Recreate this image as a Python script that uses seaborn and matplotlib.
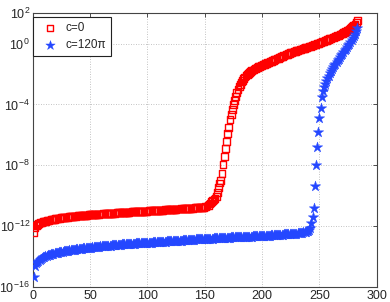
import numpy as np
import pandas as pd
import seaborn as sns
import matplotlib.pyplot as plt

# log10 of the sorted values, index 1..283
red_log = [
    -12.40, -12.13, -11.98, -11.90, -11.85, -11.80, -11.77, -11.74, -11.72, -11.70,
    -11.68, -11.66, -11.64, -11.62, -11.60, -11.58, -11.57, -11.55, -11.54, -11.52,
    -11.51, -11.50, -11.49, -11.47, -11.46, -11.45, -11.44, -11.43, -11.42, -11.41,
    -11.40, -11.39, -11.38, -11.38, -11.37, -11.36, -11.35, -11.34, -11.33, -11.32,
    -11.32, -11.31, -11.30, -11.30, -11.29, -11.28, -11.28, -11.27, -11.26, -11.26,
    -11.25, -11.25, -11.24, -11.23, -11.23, -11.22, -11.22, -11.21, -11.21, -11.20,
    -11.20, -11.19, -11.19, -11.18, -11.18, -11.17, -11.17, -11.16, -11.16, -11.15,
    -11.15, -11.14, -11.14, -11.13, -11.12, -11.12, -11.11, -11.11, -11.10, -11.10,
    -11.09, -11.09, -11.08, -11.08, -11.07, -11.07, -11.06, -11.06, -11.05, -11.05,
    -11.05, -11.04, -11.04, -11.03, -11.03, -11.03, -11.02, -11.02, -11.02, -11.01,
    -11.01, -11.00, -11.00, -10.99, -10.99, -10.98, -10.98, -10.97, -10.97, -10.96,
    -10.96, -10.95, -10.95, -10.94, -10.94, -10.93, -10.93, -10.92, -10.92, -10.91,
    -10.91, -10.90, -10.90, -10.89, -10.89, -10.88, -10.88, -10.87, -10.87, -10.86,
    -10.86, -10.85, -10.85, -10.84, -10.84, -10.83, -10.83, -10.82, -10.82, -10.81,
    -10.81, -10.80, -10.80, -10.79, -10.78, -10.78, -10.77, -10.77, -10.76, -10.75,
    -10.72, -10.68, -10.62, -10.55, -10.48, -10.40, -10.32, -10.25, -10.18, -10.05,
    -9.79, -9.45, -9.17, -9.00, -8.56, -7.97, -7.42, -6.92, -6.44, -5.93,
    -5.49, -5.01, -4.68, -4.35, -4.02, -3.72, -3.48, -3.22, -3.00, -2.82,
    -2.66, -2.52, -2.40, -2.29, -2.19, -2.10, -2.02, -1.95, -1.89, -1.83,
    -1.78, -1.73, -1.68, -1.64, -1.60, -1.56, -1.52, -1.48, -1.45, -1.42,
    -1.39, -1.36, -1.32, -1.29, -1.25, -1.22, -1.18, -1.15, -1.11, -1.08,
    -1.05, -1.01, -0.98, -0.95, -0.91, -0.88, -0.85, -0.82, -0.78, -0.75,
    -0.72, -0.69, -0.66, -0.62, -0.60, -0.57, -0.55, -0.52, -0.50, -0.47,
    -0.45, -0.42, -0.40, -0.37, -0.35, -0.32, -0.30, -0.27, -0.25, -0.22,
    -0.20, -0.17, -0.15, -0.12, -0.09, -0.07, -0.04, -0.01, 0.02, 0.05,
    0.08, 0.11, 0.14, 0.17, 0.20, 0.23, 0.26, 0.29, 0.32, 0.35,
    0.38, 0.41, 0.44, 0.47, 0.50, 0.53, 0.56, 0.60, 0.64, 0.68,
    0.72, 0.76, 0.80, 0.85, 0.90, 0.95, 1.00, 1.06, 1.12, 1.19,
    1.27, 1.37, 1.52,
]

blue_log = [
    -15.37, -14.60, -14.45, -14.35, -14.27, -14.20, -14.15, -14.10, -14.06, -14.02,
    -13.99, -13.96, -13.93, -13.90, -13.88, -13.86, -13.84, -13.82, -13.80, -13.78,
    -13.76, -13.75, -13.73, -13.72, -13.70, -13.69, -13.67, -13.66, -13.64, -13.63,
    -13.62, -13.60, -13.59, -13.58, -13.57, -13.56, -13.55, -13.53, -13.52, -13.51,
    -13.50, -13.49, -13.48, -13.47, -13.46, -13.45, -13.45, -13.44, -13.43, -13.42,
    -13.41, -13.40, -13.39, -13.38, -13.38, -13.37, -13.36, -13.35, -13.34, -13.34,
    -13.33, -13.32, -13.31, -13.31, -13.30, -13.29, -13.28, -13.28, -13.27, -13.26,
    -13.26, -13.25, -13.24, -13.24, -13.23, -13.22, -13.22, -13.21, -13.21, -13.20,
    -13.19, -13.19, -13.18, -13.18, -13.17, -13.16, -13.16, -13.15, -13.15, -13.14,
    -13.14, -13.13, -13.13, -13.12, -13.12, -13.11, -13.11, -13.10, -13.10, -13.10,
    -13.09, -13.09, -13.08, -13.08, -13.07, -13.07, -13.06, -13.06, -13.05, -13.05,
    -13.04, -13.04, -13.03, -13.03, -13.02, -13.02, -13.01, -13.01, -13.00, -13.00,
    -12.99, -12.99, -12.98, -12.98, -12.97, -12.97, -12.96, -12.96, -12.95, -12.95,
    -12.94, -12.94, -12.93, -12.93, -12.92, -12.92, -12.91, -12.90, -12.90, -12.89,
    -12.89, -12.88, -12.88, -12.87, -12.87, -12.86, -12.86, -12.85, -12.85, -12.85,
    -12.84, -12.84, -12.83, -12.83, -12.82, -12.82, -12.82, -12.81, -12.81, -12.80,
    -12.80, -12.80, -12.79, -12.79, -12.78, -12.78, -12.78, -12.77, -12.77, -12.76,
    -12.76, -12.76, -12.75, -12.75, -12.74, -12.74, -12.74, -12.73, -12.73, -12.72,
    -12.72, -12.72, -12.71, -12.71, -12.71, -12.70, -12.70, -12.70, -12.69, -12.69,
    -12.69, -12.68, -12.68, -12.68, -12.67, -12.67, -12.67, -12.66, -12.66, -12.65,
    -12.65, -12.64, -12.64, -12.63, -12.63, -12.62, -12.62, -12.61, -12.61, -12.60,
    -12.60, -12.59, -12.59, -12.58, -12.58, -12.57, -12.56, -12.56, -12.55, -12.55,
    -12.54, -12.54, -12.53, -12.53, -12.52, -12.52, -12.51, -12.50, -12.50, -12.49,
    -12.48, -12.47, -12.46, -12.45, -12.44, -12.42, -12.40, -12.38, -12.35, -12.30,
    -12.24, -12.10, -11.80, -11.40, -10.81, -9.33, -7.97, -6.80, -5.78, -4.90,
    -4.24, -3.48, -3.10, -2.85, -2.65, -2.45, -2.28, -2.10, -1.95, -1.80,
    -1.67, -1.55, -1.43, -1.32, -1.20, -1.10, -0.98, -0.88, -0.77, -0.66,
    -0.55, -0.44, -0.33, -0.22, -0.11, 0.00, 0.12, 0.25, 0.38, 0.52,
    0.65, 0.82, 1.00,
]

labels = ["c=0", "c=120\u03c0"]
x_ticks = [0, 50, 100, 150, 200, 250, 300]
y_ticks = [1e-16, 1e-12, 1e-8, 1e-4, 1e0, 1e2]

sns.set_theme(style="white")
plt.rcParams["font.family"] = ["Liberation Sans", "DejaVu Sans"]

red_df = pd.DataFrame({"idx": np.arange(1, len(red_log) + 1),
                       "val": 10.0 ** np.array(red_log)})
blue_df = pd.DataFrame({"idx": np.arange(1, len(blue_log) + 1),
                        "val": 10.0 ** np.array(blue_log)})

fig = plt.figure(figsize=(3.9, 3.02), dpi=100)
ax = fig.add_axes([0.084, 0.05, 0.882, 0.906])

sns.scatterplot(data=red_df, x="idx", y="val", ax=ax, marker="s", s=24,
                facecolors="none", edgecolor="#ff0000", linewidth=1.0,
                label=labels[0], zorder=3)
sns.scatterplot(data=blue_df, x="idx", y="val", ax=ax, marker="*", s=62,
                color="#2447ff", edgecolor="#2447ff", linewidth=0.3,
                label=labels[1], zorder=3)

ax.set_yscale("log")
ax.set_xlim(0, 300)
ax.set_ylim(1e-16, 1e2)
ax.set_xticks(x_ticks)
ax.set_yticks(y_ticks)
ax.minorticks_off()
ax.set_xlabel("")
ax.set_ylabel("")

ax.grid(True, which="major", linestyle=(0, (1, 2)), color="#b0b0b0", linewidth=0.6)
ax.set_axisbelow(True)
ax.tick_params(axis="both", which="major", direction="in", length=3, width=0.6,
               labelsize=9, top=True, right=True, pad=2, color="#333333")
for sp in ax.spines.values():
    sp.set_color("#444444")
    sp.set_linewidth(0.8)

leg = ax.legend(loc="upper left", bbox_to_anchor=(0.0, 0.986), borderaxespad=0,
                fontsize=8.5, frameon=True, fancybox=False, markerscale=0.9,
                handletextpad=0.3, borderpad=0.4, labelspacing=0.42,
                handlelength=2.1)
leg.get_frame().set_edgecolor("#222222")
leg.get_frame().set_linewidth(0.8)
leg.get_frame().set_alpha(1)

fig.savefig("out.png", dpi=100)
